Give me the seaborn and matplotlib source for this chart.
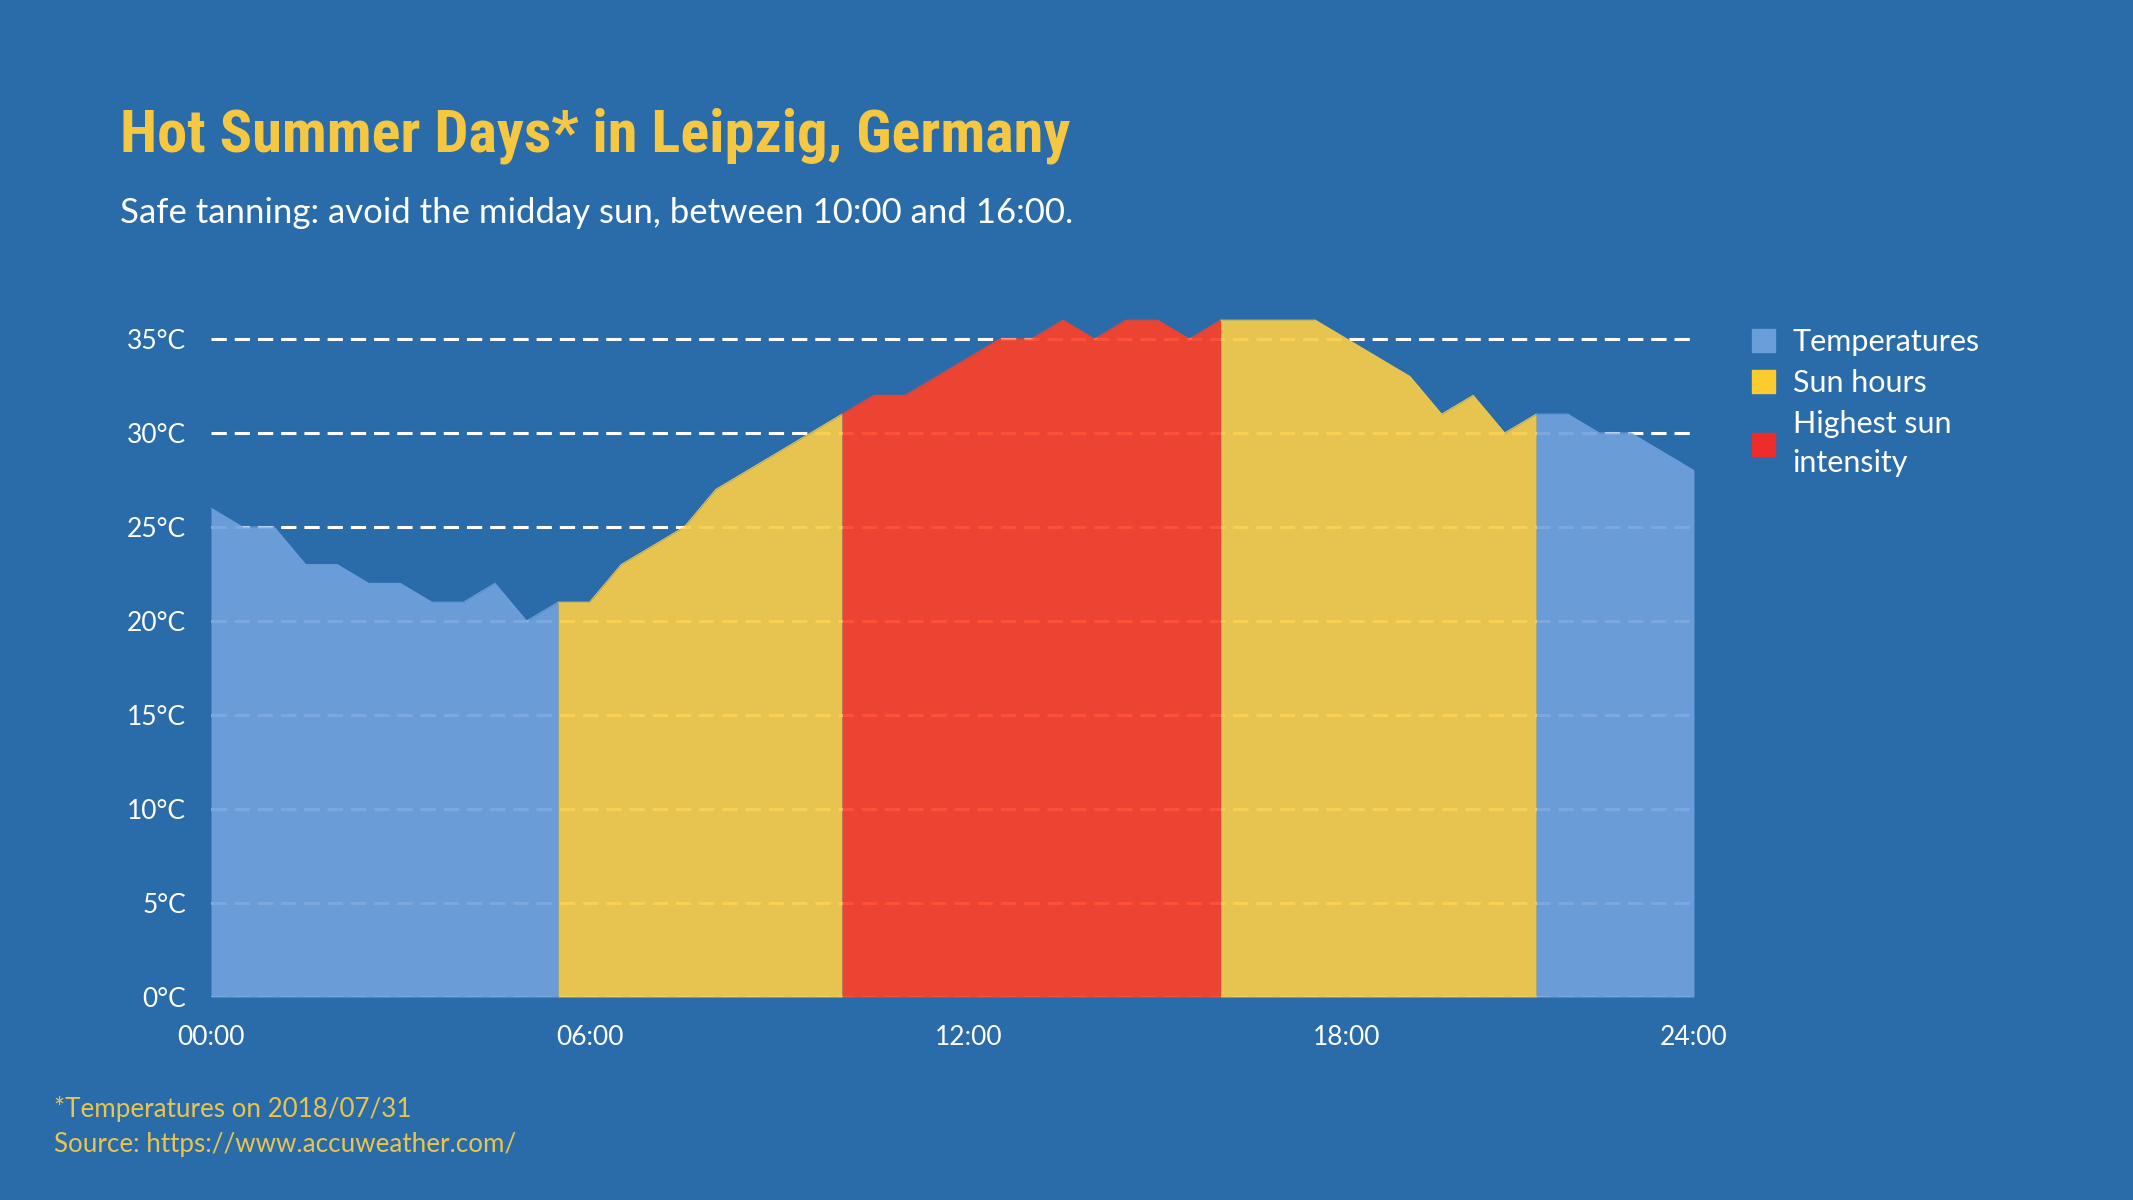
import matplotlib
matplotlib.use("Agg")
import matplotlib.pyplot as plt
import matplotlib.patches as mpatches
from matplotlib import font_manager
import seaborn as sns
import pandas as pd

# temperatures every half hour, 00:00 .. 23:30
temps = [26, 25, 25, 23, 23, 22, 22, 21, 21, 22, 20, 21,
         21, 23, 24, 25, 27, 28, 29, 30, 31, 32, 32, 33,
         34, 35, 35, 36, 35, 36, 36, 35, 36, 36, 36, 36,
         35, 34, 33, 31, 32, 30, 31, 31, 30, 30, 29, 28]

tick_pos = [0, 12, 24, 36, 47]
tick_labels = ["00:00", "06:00", "12:00", "18:00", "24:00"]
y_ticks = [0, 5, 10, 15, 20, 25, 30, 35]

series_names = ["Temperatures", "Sun hours", "Highest sun\nintensity"]
# (series, first slot, last slot)
segments = [("Temperatures", 0, 11), ("Sun hours", 11, 20),
            ("Highest sun\nintensity", 20, 32), ("Sun hours", 32, 42),
            ("Temperatures", 42, 47)]

bg = "#2A6BAA"
fill_colors = {"Temperatures": "#70A2DD", "Sun hours": "#F8CC47",
               "Highest sun\nintensity": "#FD4128"}
legend_colors = {"Temperatures": "#6A9ED9", "Sun hours": "#FCCB2E",
                 "Highest sun\nintensity": "#EE2C2C"}
title_yellow = "#F6C842"
foot_yellow = "#E8C54F"

df = pd.DataFrame({"slot": range(len(temps)), "temp": temps})

sns.set_style("white")
plt.rcParams["font.family"] = ["Lato", "DejaVu Sans"]

title_font = "Lato"
for cand in ["Roboto Condensed", "Liberation Sans Narrow", "Open Sans Condensed"]:
    try:
        font_manager.findfont(cand, fallback_to_default=False)
        title_font = cand
        break
    except Exception:
        pass

fig = plt.figure(figsize=(21.33, 12), dpi=100, facecolor=bg)
ax = fig.add_axes([211 / 2133, 1 - 997 / 1200, (1694 - 211) / 2133, 38 * 18.8 / 1200])
ax.set_facecolor(bg)

for name, a, b in segments:
    part = df[(df["slot"] >= a) & (df["slot"] <= b)]
    ax.fill_between(part["slot"], 0, part["temp"], color=fill_colors[name],
                    alpha=0.92, linewidth=0, zorder=2)
    sns.lineplot(data=part, x="slot", y="temp", ax=ax, color=fill_colors[name],
                 alpha=0.92, linewidth=0.8, zorder=2, legend=False)

ax.set_xlim(0, 47)
ax.set_ylim(0, 38)
ax.set_yticks(y_ticks)
ax.set_yticklabels([f"{v}°C" for v in y_ticks])
ax.set_xticks(tick_pos)
ax.set_xticklabels(tick_labels)
ax.set_xlabel("")
ax.set_ylabel("")
ax.yaxis.grid(True, color="white", linestyle=(0, (5, 2.6)), linewidth=2.2, zorder=1)
ax.xaxis.grid(False)
ax.set_axisbelow(True)
for s in ax.spines.values():
    s.set_visible(False)
ax.tick_params(axis="y", length=0, labelsize=19, labelcolor="white", pad=18)
ax.tick_params(axis="x", length=0, labelsize=19, labelcolor="white", pad=20)

fig.text(120 / 2133, 1 - 152 / 1200, "Hot Summer Days* in Leipzig, Germany",
         family=title_font, fontweight="bold", fontsize=43.5, color=title_yellow,
         va="baseline", ha="left")
fig.text(120 / 2133, 1 - 223 / 1200,
         "Safe tanning: avoid the midday sun, between 10:00 and 16:00.",
         fontsize=25, color="white", va="baseline", ha="left")

fig.text(54 / 2133, 1 - 1117 / 1200, "*Temperatures on 2018/07/31",
         fontsize=18.7, color=foot_yellow, va="baseline", ha="left")
fig.text(54 / 2133, 1 - 1152 / 1200, "Source: https://www.accuweather.com/",
         fontsize=18.7, color=foot_yellow, va="baseline", ha="left")

handles = [mpatches.Patch(color=legend_colors[n], label=n) for n in series_names]
leg = fig.legend(handles=handles, loc="upper left",
                 bbox_to_anchor=(1737 / 2133, 1 - 313 / 1200),
                 frameon=False, fontsize=22, labelcolor="white", handlelength=0.75,
                 handleheight=0.75, handletextpad=0.57, labelspacing=0.42, borderpad=0)
for t in leg.get_texts():
    t.set_linespacing(1.5)

fig.savefig("out.png", dpi=100, facecolor=bg)
